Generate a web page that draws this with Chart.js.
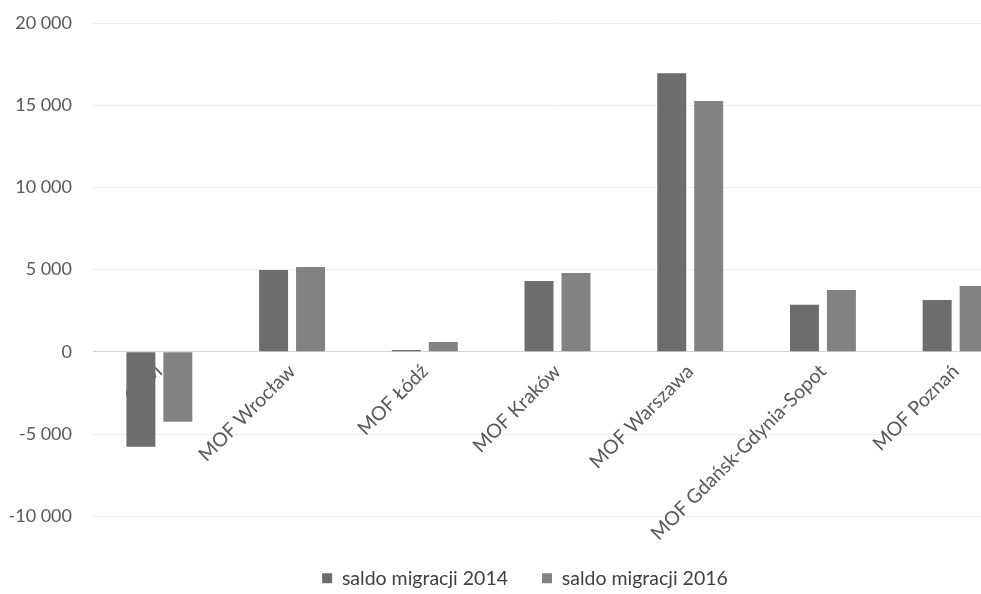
<!DOCTYPE html>
<html>
<head>
<meta charset="utf-8">
<script src="https://cdn.jsdelivr.net/npm/chart.js@4.4.1/dist/chart.umd.min.js"></script>
<style>
html,body{margin:0;padding:0;background:#fff;overflow:hidden;width:981px;height:594px;}
#wrap{width:1050px;height:594px;}
</style>
</head>
<body>
<div id="wrap"><canvas id="c" width="1050" height="594"></canvas></div>
<script>
const categories = ['GZM', 'MOF Wrocław', 'MOF Łódź', 'MOF Kraków', 'MOF Warszawa', 'MOF Gdańsk-Gdynia-Sopot', 'MOF Poznań'];
const saldo2014 = [-5770, 4980, 120, 4310, 16950, 2860, 3160];
const saldo2016 = [-4250, 5160, 600, 4800, 15250, 3770, 4010];
const seriesNames = ['saldo migracji 2014', 'saldo migracji 2016'];
const yMin = -10000, yMax = 20000, yStep = 5000;

function fmt(v) {
  const s = Math.abs(v).toString().replace(/\B(?=(\d{3})+(?!\d))/g, ' ');
  return (v < 0 ? '-' : '') + s;
}

const FONT = 'Lato, "Open Sans", sans-serif';

new Chart(document.getElementById('c'), {
  type: 'bar',
  data: {
    labels: categories,
    datasets: [
      { label: seriesNames[0], data: saldo2014, backgroundColor: '#6d6d6d', borderWidth: 0 },
      { label: seriesNames[1], data: saldo2016, backgroundColor: '#828282', borderWidth: 0 }
    ]
  },
  options: {
    responsive: false,
    animation: false,
    devicePixelRatio: 1,
    layout: { padding: { top: 23, left: 0, right: 0, bottom: -4 } },
    datasets: { bar: { categoryPercentage: 0.557, barPercentage: 0.784 } },
    plugins: {
      tooltip: { enabled: false },
      legend: {
        position: 'bottom',
        title: { display: true, text: ' ', font: { size: 1 }, padding: { top: 0, bottom: 17 } },
        labels: {
          boxWidth: 10, boxHeight: 10, padding: 34,
          color: '#404040',
          font: { family: FONT, size: 19.5 }
        }
      }
    },
    scales: {
      x: {
        position: { y: 0 },
        z: 1,
        grid: { display: false, drawTicks: false },
        border: { display: true, color: '#d4d4d4', width: 1 },
        ticks: {
          autoSkip: false, minRotation: 45, maxRotation: 45, padding: 8,
          color: '#595959',
          font: { family: FONT, size: 19.5 }
        },
        afterFit: (s) => { s.paddingTop = 0; s.paddingBottom = 0; }
      },
      y: {
        min: yMin, max: yMax,
        grid: { color: '#eeeeee', drawTicks: false },
        border: { display: false },
        ticks: {
          stepSize: yStep, padding: 21,
          color: '#595959',
          font: { family: FONT, size: 18 },
          callback: (v) => fmt(v)
        },
        afterFit: (s) => { s.width = 93; s.paddingTop = 0; s.paddingBottom = 0; }
      },
      yRight: {
        position: 'right',
        grid: { display: false, drawTicks: false },
        border: { display: false },
        ticks: { display: false },
        afterFit: (s) => { s.width = 28; s.paddingTop = 0; s.paddingBottom = 0; }
      }
    }
  }
});
</script>
</body>
</html>
